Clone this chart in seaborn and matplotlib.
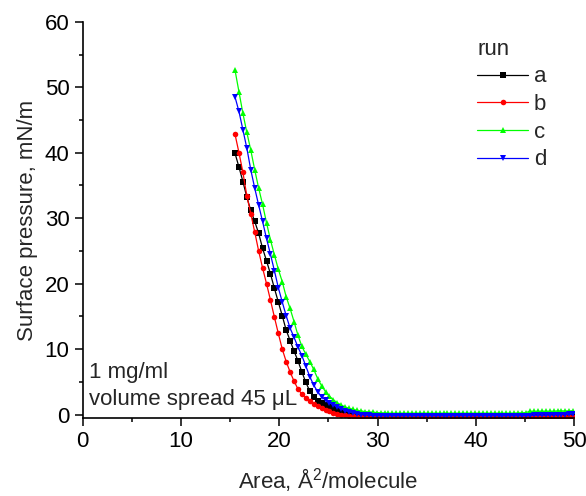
import pandas as pd
import matplotlib
matplotlib.use("Agg")
import matplotlib.pyplot as plt
import matplotlib.ticker as mticker
import seaborn as sns

# ── Data: surface pressure–area isotherms, four runs ──────────────────────────
AREA = [15.5, 15.9, 16.3, 16.7, 17.1, 17.5, 17.9, 18.3, 18.7, 19.1,
        19.5, 19.9, 20.3, 20.7, 21.1, 21.5, 21.9, 22.3, 22.7, 23.1,
        23.5, 23.9, 24.3, 24.7, 25.1, 25.5, 25.9, 26.3, 26.7, 27.1,
        27.5, 27.9, 28.3, 28.7, 29.1, 29.5, 29.9, 30.3, 30.7, 31.1,
        31.5, 31.9, 32.3, 32.7, 33.1, 33.5, 33.9, 34.3, 34.7, 35.1,
        35.5, 35.9, 36.3, 36.7, 37.1, 37.5, 37.9, 38.3, 38.7, 39.1,
        39.5, 39.9, 40.3, 40.7, 41.1, 41.5, 41.9, 42.3, 42.7, 43.1,
        43.5, 43.9, 44.3, 44.7, 45.1, 45.5, 45.9, 46.3, 46.7, 47.1,
        47.5, 47.9, 48.3, 48.7, 49.1, 49.5, 49.9, 50.3]

RUN_A = [39.9, 37.8, 35.6, 33.2, 31.2, 29.5, 27.7, 25.4, 23.5, 21.5,
         19.3, 17.2, 15.1, 12.9, 11.3, 9.7, 8.2, 6.5, 4.9, 3.6,
         2.7, 2.1, 1.7, 1.4, 1.1, 0.8, 0.55, 0.35, 0.2, 0.1,
         0.0, -0.1, -0.15, -0.2, -0.2, -0.2, -0.2, -0.2, -0.2, -0.2,
         -0.2, -0.2, -0.2, -0.2, -0.2, -0.2, -0.2, -0.2, -0.2, -0.2,
         -0.2, -0.2, -0.2, -0.2, -0.2, -0.2, -0.2, -0.2, -0.2, -0.2,
         -0.2, -0.2, -0.2, -0.2, -0.2, -0.2, -0.2, -0.2, -0.2, -0.2,
         -0.2, -0.2, -0.2, -0.2, -0.2, -0.2, -0.2, -0.2, -0.2, -0.2,
         -0.15, -0.15, -0.15, -0.15, -0.1, -0.1, -0.1, -0.1]

RUN_B = [42.8, 40.0, 37.0, 33.4, 30.7, 27.9, 25.0, 22.4, 20.0, 17.5,
         14.9, 12.4, 10.0, 8.1, 6.5, 5.1, 3.9, 3.1, 2.5, 2.0,
         1.6, 1.25, 0.95, 0.7, 0.5, 0.3, 0.15, 0.0, -0.1, -0.2,
         -0.3, -0.35, -0.4, -0.45, -0.45, -0.45, -0.45, -0.45, -0.45, -0.45,
         -0.45, -0.45, -0.45, -0.45, -0.45, -0.45, -0.45, -0.45, -0.45, -0.45,
         -0.45, -0.45, -0.45, -0.45, -0.45, -0.45, -0.45, -0.45, -0.45, -0.45,
         -0.45, -0.45, -0.45, -0.45, -0.45, -0.45, -0.45, -0.45, -0.45, -0.45,
         -0.45, -0.45, -0.45, -0.45, -0.45, -0.45, -0.45, -0.45, -0.45, -0.45,
         -0.45, -0.45, -0.45, -0.45, -0.45, -0.45, -0.45, -0.45]

RUN_C = [52.6, 49.3, 46.0, 43.1, 40.4, 37.4, 34.6, 32.1, 29.3, 26.7,
         24.4, 22.2, 20.3, 18.0, 16.2, 14.2, 12.1, 10.4, 9.2, 8.1,
         6.9, 5.5, 4.4, 3.5, 2.8, 2.25, 1.8, 1.45, 1.15, 0.95,
         0.8, 0.65, 0.55, 0.45, 0.4, 0.35, 0.3, 0.25, 0.25, 0.2,
         0.2, 0.2, 0.2, 0.2, 0.2, 0.2, 0.2, 0.2, 0.2, 0.2,
         0.2, 0.2, 0.2, 0.2, 0.2, 0.2, 0.2, 0.2, 0.2, 0.2,
         0.2, 0.2, 0.2, 0.2, 0.2, 0.2, 0.2, 0.2, 0.2, 0.2,
         0.2, 0.2, 0.25, 0.25, 0.3, 0.5, 0.5, 0.5, 0.5, 0.5,
         0.5, 0.5, 0.55, 0.55, 0.55, 0.55, 0.6, 0.6]

RUN_D = [48.5, 46.3, 43.5, 40.7, 37.4, 34.6, 32.0, 29.5, 26.9, 24.5,
         22.0, 19.4, 17.2, 15.1, 13.2, 11.8, 10.3, 9.0, 7.4, 5.8,
         4.5, 3.5, 2.7, 2.2, 1.8, 1.45, 1.15, 0.85, 0.6, 0.4,
         0.25, 0.1, 0.0, -0.05, -0.1, -0.15, -0.15, -0.15, -0.15, -0.15,
         -0.15, -0.15, -0.15, -0.15, -0.15, -0.15, -0.15, -0.15, -0.15, -0.15,
         -0.15, -0.15, -0.15, -0.15, -0.15, -0.15, -0.15, -0.15, -0.15, -0.15,
         -0.15, -0.15, -0.15, -0.15, -0.15, -0.15, -0.15, -0.15, -0.15, -0.15,
         -0.15, -0.15, -0.15, -0.15, -0.15, -0.15, -0.1, -0.1, -0.1, -0.1,
         -0.05, -0.05, 0.0, 0.0, 0.0, 0.05, 0.05, 0.05]

RUNS = ["a", "b", "c", "d"]
COLORS = {"a": "#000000", "b": "#ff0000", "c": "#00ff00", "d": "#0000ff"}
MARKERS = {"a": "s", "b": "o", "c": "^", "d": "v"}

# ── Style ─────────────────────────────────────────────────────────────────────
sns.set_theme(style="ticks")
plt.rcParams["font.family"] = ["Liberation Sans", "DejaVu Sans"]
plt.rcParams["mathtext.fontset"] = "custom"
plt.rcParams["mathtext.rm"] = "Liberation Sans"
plt.rcParams["font.size"] = 16

df = pd.DataFrame({
    "area": AREA * 4,
    "pressure": RUN_A + RUN_B + RUN_C + RUN_D,
    "run": [r for r in RUNS for _ in AREA],
})

fig, ax = plt.subplots(figsize=(5.86, 4.96), dpi=100)
fig.subplots_adjust(left=0.141, right=0.98, top=0.956, bottom=0.157)

sns.lineplot(data=df, x="area", y="pressure", hue="run", style="run",
             palette=COLORS, markers=MARKERS, dashes=False,
             estimator=None, sort=False, linewidth=0.9,
             markersize=4, markeredgewidth=0, ax=ax)

ax.set_xlim(0, 50)
ax.set_ylim(-0.55, 60)
ax.xaxis.set_major_locator(mticker.MultipleLocator(10))
ax.xaxis.set_minor_locator(mticker.MultipleLocator(5))
ax.yaxis.set_major_locator(mticker.MultipleLocator(10))
ax.yaxis.set_minor_locator(mticker.MultipleLocator(5))
ax.tick_params(which="major", length=5.5, width=1.1, color="black",
               labelsize=16, labelcolor="black", pad=4)
ax.tick_params(which="minor", length=3, width=1.1, color="black")
for side in ["left", "bottom"]:
    ax.spines[side].set_linewidth(1.2)
    ax.spines[side].set_color("black")
sns.despine(ax=ax)

ax.set_xlabel("Area, Å$^{\\mathregular{2}}$/molecule", fontsize=16, labelpad=10)
ax.set_ylabel("Surface pressure, mN/m", fontsize=16, labelpad=5)

ax.text(0.013, 0.101, "1 mg/ml", transform=ax.transAxes, fontsize=16,
        va="baseline", ha="left")
ax.text(0.013, 0.033, "volume spread 45 μL", transform=ax.transAxes,
        fontsize=16, va="baseline", ha="left")

sns.move_legend(ax, "upper left", bbox_to_anchor=(0.814, 0.922),
                bbox_transform=fig.transFigure, frameon=False, title="run",
                fontsize=16, title_fontsize=16, alignment="left",
                handlelength=2.3, handletextpad=0.25, labelspacing=0.3,
                borderpad=0, borderaxespad=0)

fig.savefig("out.png", dpi=100)
